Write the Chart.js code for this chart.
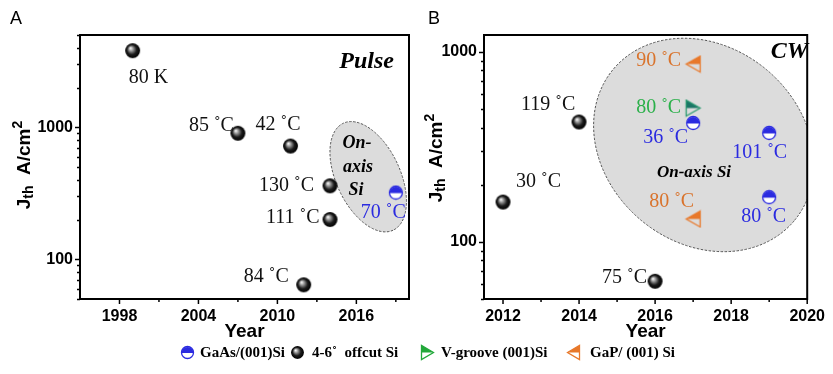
<!DOCTYPE html>
<html><head><meta charset="utf-8">
<script src="https://cdn.jsdelivr.net/npm/chart.js@4/dist/chart.umd.min.js"></script>
<style>
html,body{margin:0;padding:0;background:#fff;width:833px;height:374px;overflow:hidden;position:relative;}
canvas.ch{position:absolute;top:0;}
.lg{position:absolute;font:bold 15px "Liberation Serif";color:#000;white-space:pre;line-height:18px;}
.lm{position:absolute;}
</style></head><body>
<canvas id="cA" class="ch" width="420" height="345" style="left:0px"></canvas>
<canvas id="cB" class="ch" width="418" height="345" style="left:415px"></canvas>
<div id="legend"></div>
<script>
// ---------------- DATA ----------------
// Panel A (Pulse)
const pulseBallYears = [1999, 2007, 2011, 2014, 2014, 2012];
const pulseBallJth   = [3800, 900, 720, 360, 200, 64];
const pulseBallTemps = ["80 K", "85 ˚C", "42 ˚C", "130 ˚C", "111 ˚C", "84 ˚C"];
const pulseGaAsYears = [2019];
const pulseGaAsJth   = [320];
const pulseGaAsTemps = ["70 ˚C"];
// Panel B (CW)
const cwBallYears = [2012, 2014, 2016];
const cwBallJth   = [162, 428, 62];
const cwBallTemps = ["30 ˚C", "119 ˚C", "75 ˚C"];
const cwGaAsYears = [2017, 2019, 2019];
const cwGaAsJth   = [423, 375, 172];
const cwGaAsTemps = ["36 ˚C", "101 ˚C", "80 ˚C"];
const cwVgrooveYears = [2017];
const cwVgrooveJth   = [507];
const cwVgrooveTemps = ["80 ˚C"];
const cwGaPYears = [2017, 2017];
const cwGaPJth   = [865, 132];
const cwGaPTemps = ["90 ˚C", "80 ˚C"];
// Ticks
const pulseXTicks = [1998, 2004, 2010, 2016];
const pulseXMinor = [2001, 2007, 2013, 2019];
const cwXTicks = [2012, 2014, 2016, 2018, 2020];
const cwXMinor = [2013, 2015, 2017, 2019];
const yTicks = [100, 1000];
const legendNames = ["GaAs/(001)Si", "4-6˚  offcut Si", "V-groove (001)Si", "GaP/ (001) Si"];

// ---------------- STYLE ----------------
const BLUE = '#2b2be0', ORANGE = '#e8782a', ORANGE_T = '#d9732c', GREEN_T = '#2bb04a', TEAL = '#1b7566';

function mk(s){const c=document.createElement('canvas');c.width=c.height=s;return c;}
function ball(r){
  const s=Math.ceil(r*2+2), c=mk(s), g=c.getContext('2d'), cx=s/2, cy=s/2;
  const gr=g.createRadialGradient(cx-r*0.3,cy-r*0.35,r*0.05,cx,cy,r);
  gr.addColorStop(0,'#f6f6f6');gr.addColorStop(0.28,'#909090');gr.addColorStop(0.62,'#1c1c1c');gr.addColorStop(0.92,'#050505');gr.addColorStop(1,'#3a3a3a');
  g.fillStyle=gr;g.beginPath();g.arc(cx,cy,r,0,Math.PI*2);g.fill();return c;
}
function halfCircle(r,col){
  const s=Math.ceil(r*2+3), c=mk(s), g=c.getContext('2d'), cx=s/2, cy=s/2;
  g.fillStyle='#fff';g.beginPath();g.arc(cx,cy,r,0,Math.PI*2);g.fill();
  g.fillStyle=col;g.beginPath();g.arc(cx,cy+0.5,r,Math.PI,2*Math.PI);g.closePath();g.fill();
  g.strokeStyle=col;g.lineWidth=1.3;g.beginPath();g.arc(cx,cy,r,0,Math.PI*2);g.stroke();return c;
}
function tri(w,h,dir,fillCol,lineCol){
  const s=Math.ceil(Math.max(w,h)+3), c=mk(s), g=c.getContext('2d'), cx=s/2, cy=s/2;
  const tipX = dir<0 ? cx-w/2 : cx+w/2, baseX = dir<0 ? cx+w/2 : cx-w/2;
  g.fillStyle=fillCol;g.beginPath();g.moveTo(tipX,cy);g.lineTo(baseX,cy-h/2);g.lineTo(baseX,cy);g.closePath();g.fill();
  g.strokeStyle=lineCol;g.lineWidth=1.3;g.beginPath();g.moveTo(tipX,cy);g.lineTo(baseX,cy-h/2);g.lineTo(baseX,cy+h/2);g.closePath();g.stroke();
  return c;
}
const mBall = ball(7.5), mGaAs = halfCircle(6.5,BLUE), mGaP = tri(14,16,-1,ORANGE,ORANGE), mVg = tri(14,16,1,TEAL,'#2a9a70');

function pts(xs,ys){return xs.map((x,i)=>({x:x,y:ys[i]}));}

const framePlugin = {
  id:'frame',
  beforeDatasetsDraw(chart){
    const o=chart.options.plugins.frame, {ctx,chartArea:a,scales:{x,y}}=chart;
    const e=o.ellipse;
    ctx.save();
    ctx.beginPath();ctx.rect(a.left,a.top,a.right-a.left,a.bottom-a.top);ctx.clip();
    const cx=x.getPixelForValue(e.cx), cy=y.getPixelForValue(e.cy);
    ctx.beginPath();ctx.ellipse(cx,cy,e.a,e.b,e.rot*Math.PI/180,0,Math.PI*2);
    ctx.fillStyle='#dcdcdc';ctx.fill();
    ctx.setLineDash([2.5,1.5]);ctx.strokeStyle='#555';ctx.lineWidth=1;ctx.stroke();
    ctx.restore();
    // in-plot annotations
    ctx.save();ctx.fillStyle='#000';ctx.textBaseline='middle';
    o.notes.forEach(n=>{ctx.font=n.font;ctx.textAlign=n.align;ctx.fillText(n.text,n.x,n.y);});
    ctx.restore();
  },
  afterDatasetsDraw(chart){
    const {ctx}=chart;
    chart.data.datasets.forEach((ds,i)=>{
      if(!ds.tempLabels) return;
      const meta=chart.getDatasetMeta(i);
      ctx.save();ctx.font='20px "Liberation Serif"';ctx.fillStyle=ds.labelColor;ctx.textBaseline='middle';ctx.textAlign='left';
      meta.data.forEach((pt,j)=>{const off=ds.labelOffsets[j];ctx.fillText(ds.tempLabels[j],pt.x+off[0],pt.y+off[1]);});
      ctx.restore();
    });
  },
  afterDraw(chart){
    const o=chart.options.plugins.frame, {ctx,chartArea:a,scales:{x,y}}=chart;
    ctx.save();ctx.strokeStyle='#000';
    ctx.lineWidth=2;ctx.strokeRect(a.left,a.top,a.right-a.left,a.bottom-a.top);
    ctx.lineWidth=1.5;
    const L=(x1,y1,x2,y2)=>{ctx.beginPath();ctx.moveTo(x1,y1);ctx.lineTo(x2,y2);ctx.stroke();};
    o.xMajor.forEach(v=>{const p=x.getPixelForValue(v);L(p,a.bottom,p,a.bottom+5);});
    o.xMinor.forEach(v=>{const p=x.getPixelForValue(v);L(p,a.bottom,p,a.bottom+3);});
    for(let d=10; d<=10000; d*=10){
      for(let k=1;k<10;k++){
        const v=d*k; if(v<y.min-1e-9||v>y.max+1e-9) continue;
        const p=Math.round(y.getPixelForValue(v))+0.5;
        L(a.left,p,a.left-(k===1?5:3),p);
      }
    }
    // y title: J_th  A/cm^2
    const t=o.ytitle;
    ctx.save();ctx.fillStyle='#000';ctx.textBaseline='alphabetic';ctx.textAlign='left';
    const big='bold 19px "Liberation Sans"', small='bold 14px "Liberation Sans"';
    const parts=[['J',big,0],['th',small,3],['  A/cm',big,0],['2',small,-8]];
    let total=0;parts.forEach(p=>{ctx.font=p[1];total+=ctx.measureText(p[0]).width;});
    ctx.translate(t.x,t.cy+total/2);ctx.rotate(-Math.PI/2);
    let cur=0;parts.forEach(p=>{ctx.font=p[1];ctx.fillText(p[0],cur,p[2]);cur+=ctx.measureText(p[0]).width;});
    ctx.restore();
    // panel letter
    ctx.fillStyle='#000';ctx.font='18px "Liberation Sans"';ctx.textAlign='left';ctx.textBaseline='alphabetic';
    ctx.fillText(o.letter.text,o.letter.x,o.letter.y);
    ctx.restore();
  }
};

function makeChart(id, datasets, xr, xTicks, xMinor, ymax, pad, yw, extra){
  return new Chart(document.getElementById(id),{
    type:'scatter',
    data:{datasets:datasets},
    options:{
      responsive:false,animation:false,devicePixelRatio:1,
      layout:{padding:{left:0,top:35,right:pad,bottom:0}},
      plugins:{legend:{display:false},tooltip:{enabled:false},
        frame:Object.assign({xMajor:xTicks,xMinor:xMinor},extra)},
      scales:{
        x:{type:'linear',min:xr[0],max:xr[1],
          afterFit(s){s.height=46;},
          afterBuildTicks(s){s.ticks=xTicks.map(v=>({value:v}));},
          grid:{display:false,drawTicks:false},border:{display:false},
          ticks:{padding:8,maxRotation:0,color:'#000',font:{family:'"Liberation Sans"',size:16,weight:'bold'},callback:v=>String(v)},
          title:{display:true,text:'Year',color:'#000',font:{family:'"Liberation Sans"',size:19,weight:'bold'},padding:{top:0,bottom:2}}
        },
        y:{type:'logarithmic',min:50,max:ymax,
          afterFit(s){s.width=yw;},
          afterBuildTicks(s){s.ticks=yTicks.map(v=>({value:v}));},
          grid:{display:false,drawTicks:false},border:{display:false},
          ticks:{padding:7,color:'#000',font:{family:'"Liberation Sans"',size:16,weight:'bold'},callback:v=>String(v)}
        }
      }
    },
    plugins:[framePlugin]
  });
}

makeChart('cA',[
  {label:'4-6˚ offcut Si',data:pts(pulseBallYears,pulseBallJth),pointStyle:mBall,pointRadius:8,
   tempLabels:pulseBallTemps,labelColor:'#111',labelOffsets:[[-4,27],[-49,-8],[-35,-21],[-71,0],[-64,-2],[-60,-8]]},
  {label:'GaAs/(001)Si',data:pts(pulseGaAsYears,pulseGaAsJth),pointStyle:mGaAs,pointRadius:8,
   tempLabels:pulseGaAsTemps,labelColor:BLUE,labelOffsets:[[-35,20]]}
],[1995,2020],pulseXTicks,pulseXMinor,5000,11,80,{
  ellipse:{cx:2016.9,cy:422,a:59,b:32,rot:65},
  notes:[
    {text:'Pulse',font:'bold italic 24px "Liberation Serif"',align:'right',x:394,y:62},
    {text:'On-',font:'bold italic 18px "Liberation Serif"',align:'center',x:357,y:143},
    {text:'axis',font:'bold italic 18px "Liberation Serif"',align:'center',x:358,y:167},
    {text:'Si',font:'bold italic 18px "Liberation Serif"',align:'center',x:356,y:190}
  ],
  ytitle:{x:30,cy:165},
  letter:{text:'A',x:10,y:24}
});

makeChart('cB',[
  {label:'4-6˚ offcut Si',data:pts(cwBallYears,cwBallJth),pointStyle:mBall,pointRadius:8,
   tempLabels:cwBallTemps,labelColor:'#111',labelOffsets:[[13,-20],[-58,-17],[-53,-4]]},
  {label:'GaAs/(001)Si',data:pts(cwGaAsYears,cwGaAsJth),pointStyle:mGaAs,pointRadius:8,
   tempLabels:cwGaAsTemps,labelColor:BLUE,labelOffsets:[[-50,15],[-37,20],[-28,20]]},
  {label:'V-groove (001)Si',data:pts(cwVgrooveYears,cwVgrooveJth),pointStyle:mVg,pointRadius:8,
   tempLabels:cwVgrooveTemps,labelColor:GREEN_T,labelOffsets:[[-57,0]]},
  {label:'GaP/ (001) Si',data:pts(cwGaPYears,cwGaPJth),pointStyle:mGaP,pointRadius:8,
   tempLabels:cwGaPTemps,labelColor:ORANGE_T,labelOffsets:[[-57,-3],[-44,-17]]}
],[2011.5,2020],cwXTicks,cwXMinor,1230,19,69,{
  ellipse:{cx:2017.28,cy:324,a:118,b:98,rot:40},
  notes:[
    {text:'CW',font:'bold italic 24px "Liberation Serif"',align:'right',x:393,y:52},
    {text:'On-axis Si',font:'bold italic 17px "Liberation Serif"',align:'center',x:279,y:173}
  ],
  ytitle:{x:27,cy:158},
  letter:{text:'B',x:13,y:24}
});

// ---------------- LEGEND ----------------
const legendMarkers=[halfCircle(6,BLUE),ball(6.5),tri(12,14,1,'#22a83a','#22a83a'),tri(12,14,-1,ORANGE,ORANGE)];
const legendMarkerX=[187,297,427,573], legendTextX=[200,312,441,590], legendY=352;
const lg=document.getElementById('legend');
legendNames.forEach((n,i)=>{
  const m=legendMarkers[i];m.className='lm';
  m.style.left=(legendMarkerX[i]-m.width/2)+'px';m.style.top=(legendY-m.height/2)+'px';
  lg.appendChild(m);
  const d=document.createElement('div');d.className='lg';d.textContent=n;
  d.style.left=legendTextX[i]+'px';d.style.top=(legendY-9)+'px';lg.appendChild(d);
});
</script>
</body></html>
